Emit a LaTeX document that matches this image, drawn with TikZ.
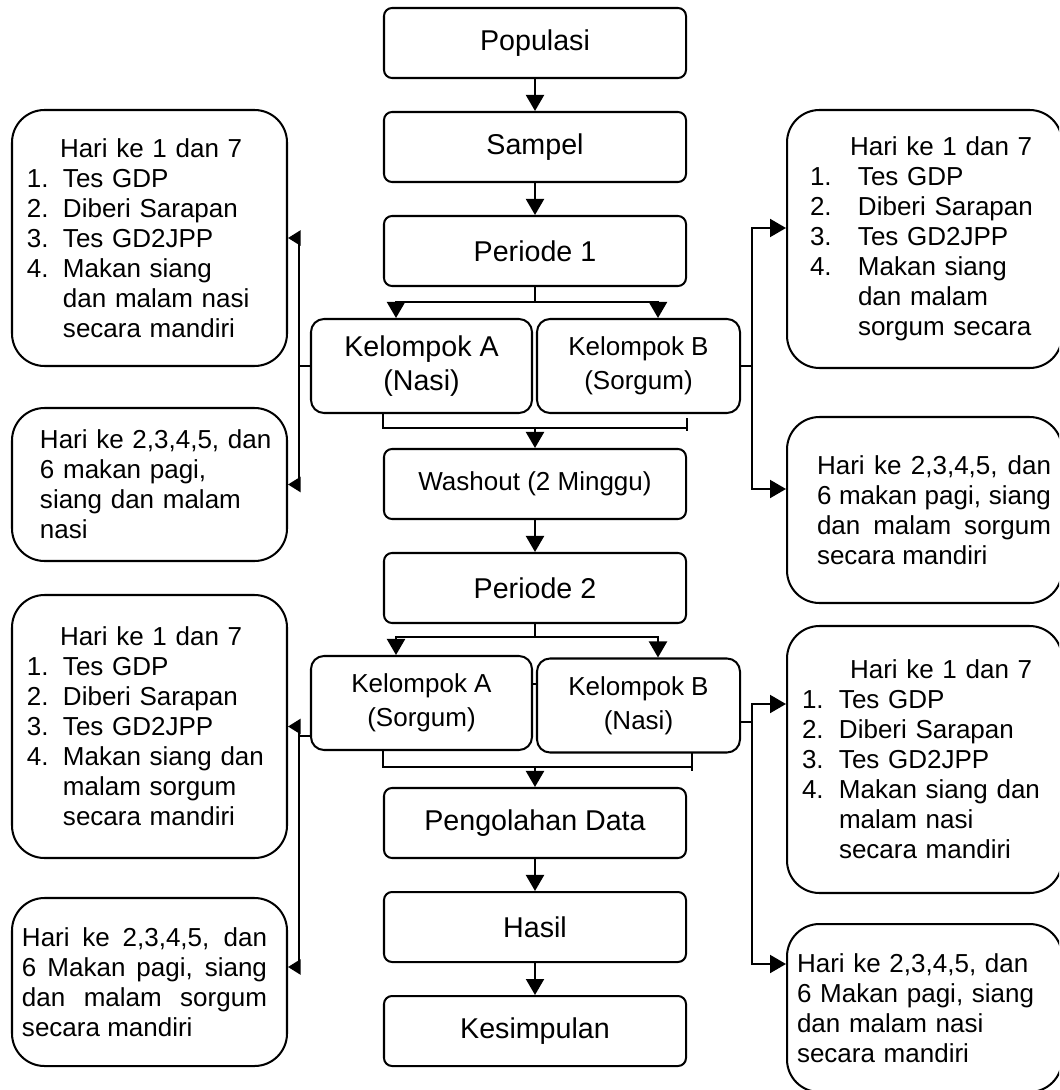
\documentclass[tikz,border=0pt]{standalone}
\usepackage{fontspec}
\setmainfont{Liberation Sans}
\usepackage{tikz}
\usetikzlibrary{arrows.meta}
\usetikzlibrary{calc}
\usetikzlibrary{positioning}

\newcommand{\besar}{\fontsize{16.3}{19.4}\selectfont}
\newcommand{\biasa}{\fontsize{14.8}{17.07}\selectfont}
\newcommand{\butir}[2][0.72cm]{\makebox[#1][l]{#2}}

\begin{document}
\begin{tikzpicture}[-,>={Triangle[length=0.32cm,width=0.36cm]},line width=1.15pt,
                    node distance=2.08cm,
                    sisi/.style={draw, rounded corners=0.65cm, minimum width=5.5cm,
                      text width=5.2cm, inner xsep=0.15cm, align=left, font=\biasa,
                      execute at begin node={\leftskip=#1\relax}},
                    sisij/.style 2 args={draw, rounded corners=0.65cm, minimum width=5.5cm,
                      text width=5.2cm, inner xsep=0.15cm, align=justify, font=\biasa,
                      execute at begin node={\leftskip=#1\rightskip=#2\relax}},
                    kecil/.style={-{Triangle[length=0.25cm,width=0.3cm]}}]
  \useasboundingbox (0,0) rectangle (21.18,-21.8);
  \clip (0,0) rectangle (21.18,-21.8);
  \tikzstyle{blok}=[draw, rounded corners=0.16cm, minimum width=6.04cm, minimum height=1.4cm, font=\besar]
  \tikzstyle{kel}=[draw, rounded corners=0.26cm, minimum height=1.88cm, align=center, font=\fontsize{14.8}{19.4}\selectfont]

  \node[blok] (pop) at (10.7,-0.86) {Populasi};
  \node[blok] (samp) [below of=pop] {Sampel};
  \node[blok] (per1) [below of=samp] {Periode 1};
  \node[kel, minimum width=4.42cm, font=\besar] (kelA1) [below of=per1, node distance=2.3cm, xshift=-2.27cm] {Kelompok A\\(Nasi)};
  \node[kel, minimum width=4.06cm] (kelB1) [below of=per1, node distance=2.3cm, xshift=2.07cm] {Kelompok B\\(Sorgum)};
  \node[blok, font=\biasa] (wash) [below of=per1, node distance=4.66cm] {Washout (2 Minggu)};
  \node[blok] (per2) [below of=wash] {Periode 2};
  \node[kel, minimum width=4.42cm] (kelA2) [below of=per2, node distance=2.3cm, xshift=-2.27cm] {Kelompok A\\(Sorgum)};
  \node[kel, minimum width=4.06cm] (kelB2) [below of=per2, node distance=2.35cm, xshift=2.07cm] {Kelompok B\\(Nasi)};
  \node[blok] (olah) [below of=per2, node distance=4.7cm] {Pengolahan Data};
  \node[blok] (hasil) [below of=olah] {Hasil};
  \node[blok] (simpul) [below of=hasil] {Kesimpulan};

  \node[sisi=0.15cm, minimum height=5.12cm] (kiri1) at (2.99,-4.76)
    {\hspace*{0.66cm}Hari ke 1 dan 7\\ \butir{1.}Tes GDP\\ \butir{2.}Diberi Sarapan\\ \butir{3.}Tes GD2JPP\\
     \butir{4.}Makan siang\\ \hspace*{0.72cm}dan malam nasi\\ \hspace*{0.72cm}secara mandiri};
  \node[sisi=0.41cm, minimum height=3.06cm] (kiri2) at (2.99,-9.69)
    {Hari ke 2,3,4,5, dan\\ 6 makan pagi,\\ siang dan malam\\ nasi};
  \node[sisi=0.15cm, minimum height=5.26cm] (kiri3) at (2.99,-14.53)
    {\hspace*{0.66cm}Hari ke 1 dan 7\\ \butir{1.}Tes GDP\\ \butir{2.}Diberi Sarapan\\ \butir{3.}Tes GD2JPP\\
     \butir{4.}Makan siang dan\\ \hspace*{0.72cm}malam sorgum\\ \hspace*{0.72cm}secara mandiri};
  \node[sisij={0.05cm}{0.25cm}, minimum height=3.36cm] (kiri4) at (2.99,-19.64)
    {Hari ke 2,3,4,5, dan\linebreak 6 Makan pagi, siang\linebreak dan malam sorgum\linebreak secara mandiri};

  \node[sisi=0.31cm, minimum height=5.16cm] (kanan1) at (18.49,-4.78)
    {\hspace*{0.8cm}Hari ke 1 dan 7\\ \butir[0.96cm]{1.}Tes GDP\\ \butir[0.96cm]{2.}Diberi Sarapan\\ \butir[0.96cm]{3.}Tes GD2JPP\\
     \butir[0.96cm]{4.}Makan siang\\ \hspace*{0.96cm}dan malam\\ \hspace*{0.96cm}sorgum secara};
  \node[sisij={0.45cm}{0.07cm}, minimum height=3.72cm] (kanan2) at (18.49,-10.2)
    {Hari ke 2,3,4,5, dan\linebreak 6 makan pagi, siang\linebreak dan malam sorgum\linebreak secara mandiri};
  \node[sisi=0.15cm, minimum height=5.34cm] (kanan3) at (18.49,-15.19)
    {\hspace*{0.96cm}Hari ke 1 dan 7\\ \butir[0.74cm]{1.}Tes GDP\\ \butir[0.74cm]{2.}Diberi Sarapan\\ \butir[0.74cm]{3.}Tes GD2JPP\\
     \butir[0.74cm]{4.}Makan siang dan\\ \hspace*{0.74cm}malam nasi\\ \hspace*{0.74cm}secara mandiri};
  \node[sisi=0.05cm, minimum height=3.36cm] (kanan4) at (18.49,-20.16)
    {Hari ke 2,3,4,5, dan\\ 6 Makan pagi, siang\\ dan malam nasi\\ secara mandiri};

  \draw[->] (pop) -- (samp);
  \draw[->] (samp) -- (per1);
  \draw (per1.south) -- ++(0,-0.3) coordinate (sp1);
  \draw[->] (sp1) -| ([xshift=-0.51cm]kelA1.north);
  \draw[->] (sp1) -| ([xshift=0.39cm]kelB1.north);
  \draw (kelA1.south -| wash.west) -- ++(0,-0.28) coordinate (gb1) -- (gb1 -| wash.east) ++(0,0.2) -- ++(0,-0.26);
  \draw[->] (gb1 -| wash.north) -- (wash.north);
  \draw[->] (wash) -- (per2);
  \draw (per2.south) -- ++(0,-0.26) coordinate (sp2);
  \draw[->] (sp2) -| ([xshift=-0.51cm]kelA2.north);
  \draw[->] (sp2) -| ([xshift=0.39cm]kelB2.north);
  \draw ([yshift=0.38cm]kelA2.east) -- ++(0.1,0);
  \draw (kelA2.south -| olah.west) -- ++(0,-0.32) coordinate (gb2) -- ($(gb2 -| olah.east)+(0.1,0)$) ++(0,0.28) -- ++(0,-0.36);
  \draw[->] (gb2 -| olah.north) -- (olah.north);
  \draw[->] (olah) -- (hasil);
  \draw[->] (hasil) -- (simpul);

  \draw (kelA1.west) -- ++(-0.22,0) coordinate (ka1);
  \draw[kecil] (ka1) |- (kiri1.east);
  \draw[kecil] (ka1) |- (kiri2.east);
  \draw (kelB1.east) -- ++(0.22,0) coordinate (kb1);
  \draw[->] (kb1) |- ([yshift=0.22cm]kanan1.west);
  \draw[->] (kb1) |- ([yshift=0.42cm]kanan2.west);
  \draw ([yshift=-0.66cm]kelA2.west) -- ++(-0.22,0) coordinate (ka2);
  \draw[kecil] (ka2) |- (kiri3.east);
  \draw[kecil] (ka2) |- ([yshift=0.3cm]kiri4.east);
  \draw ([yshift=-0.33cm]kelB2.east) -- ++(0.22,0) coordinate (kb2);
  \draw[->] (kb2) |- ([yshift=1.11cm]kanan3.west);
  \draw[->] (kb2) |- ([yshift=0.88cm]kanan4.west);
\end{tikzpicture}
\end{document}
